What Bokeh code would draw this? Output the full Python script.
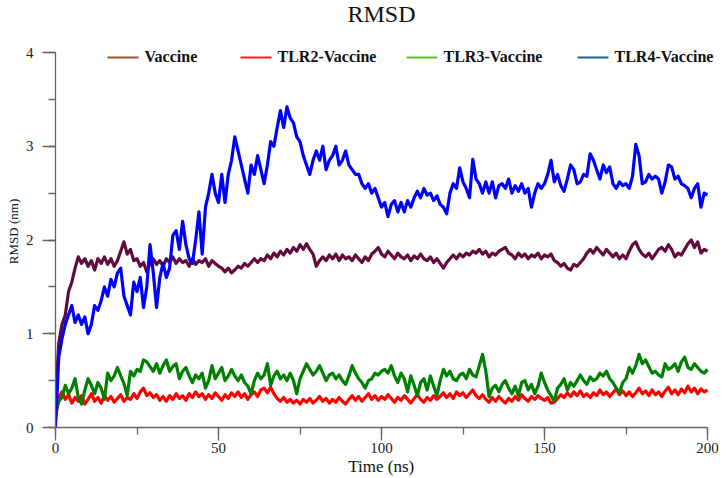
from bokeh.plotting import figure
from bokeh.models import Range1d, SingleIntervalTicker, Label, BoxAnnotation, Title
from bokeh.embed import file_html
from bokeh.resources import INLINE

TIME_NS = list(range(0, 201))

VACCINE = [
    0.3, 0.9, 1.1, 1.2, 1.45, 1.55, 1.7, 1.82, 1.75, 1.8,
    1.72, 1.78, 1.68, 1.8, 1.75, 1.82, 1.74, 1.8, 1.72, 1.78,
    1.88, 1.98, 1.85, 1.9, 1.78, 1.8, 1.72, 1.76, 1.66, 1.75,
    1.8, 1.74, 1.78, 1.72, 1.8, 1.76, 1.82, 1.75, 1.8, 1.76,
    1.78, 1.72, 1.8, 1.74, 1.78, 1.76, 1.8, 1.72, 1.78, 1.75,
    1.72, 1.7, 1.66, 1.7, 1.65, 1.68, 1.72, 1.7, 1.75, 1.72,
    1.76, 1.8, 1.76, 1.8, 1.78, 1.84, 1.8, 1.86, 1.82, 1.88,
    1.84, 1.9, 1.86, 1.92, 1.88, 1.95, 1.9, 1.96, 1.9, 1.85,
    1.72, 1.78, 1.82, 1.78, 1.84, 1.8, 1.85, 1.78, 1.84, 1.8,
    1.82, 1.78, 1.84, 1.8, 1.76, 1.82, 1.78, 1.85, 1.88, 1.92,
    1.85, 1.82, 1.88, 1.84, 1.8, 1.86, 1.82, 1.8, 1.84, 1.78,
    1.83, 1.8, 1.85, 1.8, 1.78, 1.82, 1.76, 1.8, 1.75, 1.7,
    1.76, 1.8, 1.84, 1.8, 1.85, 1.82, 1.86, 1.84, 1.88, 1.86,
    1.9, 1.85, 1.88, 1.82, 1.86, 1.84, 1.88, 1.9, 1.92, 1.86,
    1.84, 1.8, 1.86, 1.82, 1.85, 1.8, 1.84, 1.82, 1.86, 1.8,
    1.84, 1.82, 1.85, 1.78, 1.76, 1.72, 1.75, 1.7, 1.68, 1.74,
    1.72, 1.76, 1.8, 1.86, 1.9, 1.86, 1.92, 1.88, 1.84, 1.9,
    1.86, 1.82, 1.86, 1.8, 1.84, 1.8, 1.88, 1.95, 1.98, 1.9,
    1.85, 1.82, 1.86, 1.8, 1.85, 1.9, 1.92, 1.88, 1.95, 1.9,
    1.82, 1.86, 1.84, 1.9, 1.96, 2.0, 1.92, 1.98, 1.86, 1.9,
    1.88,
]

TLR2_VACCINE = [
    0.1, 0.32, 0.38, 0.3, 0.35, 0.26, 0.32, 0.28, 0.34, 0.25,
    0.3, 0.36, 0.28, 0.32, 0.26, 0.34, 0.29, 0.33, 0.27, 0.31,
    0.35, 0.28, 0.32, 0.3, 0.36, 0.31, 0.38, 0.42, 0.34, 0.37,
    0.32, 0.35, 0.29, 0.33, 0.28, 0.34, 0.3, 0.36, 0.31, 0.34,
    0.29, 0.36, 0.32, 0.38, 0.33, 0.36, 0.3, 0.35, 0.31, 0.37,
    0.33, 0.29, 0.35, 0.31, 0.37, 0.33, 0.38, 0.32, 0.36, 0.3,
    0.35, 0.38, 0.33, 0.4, 0.42, 0.37, 0.43, 0.36, 0.31, 0.28,
    0.32, 0.27, 0.3, 0.26, 0.29, 0.25, 0.3, 0.27, 0.31, 0.26,
    0.29, 0.33, 0.28, 0.31, 0.26, 0.3, 0.27, 0.32, 0.28, 0.25,
    0.3, 0.34, 0.29, 0.33, 0.28, 0.32, 0.36, 0.3, 0.34, 0.29,
    0.33, 0.3, 0.35, 0.31, 0.27, 0.32, 0.29, 0.34, 0.3, 0.26,
    0.31, 0.35, 0.3, 0.27, 0.32, 0.29, 0.34, 0.3, 0.33, 0.37,
    0.32, 0.36, 0.31, 0.38, 0.34, 0.37, 0.32, 0.36, 0.4, 0.34,
    0.31, 0.35, 0.3, 0.27, 0.32, 0.28, 0.33, 0.29, 0.26, 0.31,
    0.28, 0.33, 0.29, 0.35, 0.31, 0.28, 0.33, 0.3, 0.34, 0.31,
    0.29, 0.32, 0.26, 0.27, 0.31, 0.35, 0.32, 0.37, 0.33, 0.38,
    0.34, 0.39, 0.33, 0.36, 0.32, 0.37, 0.34, 0.4, 0.35, 0.38,
    0.33, 0.37, 0.41, 0.35, 0.39, 0.34, 0.38, 0.33, 0.37, 0.42,
    0.36, 0.39, 0.34, 0.4, 0.35, 0.38, 0.33, 0.39, 0.43, 0.36,
    0.4, 0.35, 0.41, 0.37, 0.44, 0.38, 0.42, 0.36, 0.41, 0.38,
    0.4,
]

TLR3_VACCINE = [
    0.15, 0.28, 0.32, 0.45, 0.36, 0.42, 0.52, 0.32, 0.25, 0.4,
    0.52, 0.45, 0.36, 0.48, 0.42, 0.3, 0.58, 0.5, 0.55, 0.64,
    0.55, 0.47, 0.34, 0.6, 0.55, 0.62, 0.6, 0.72, 0.7, 0.65,
    0.6, 0.68, 0.58, 0.66, 0.72, 0.6, 0.65, 0.68, 0.52, 0.6,
    0.64, 0.55, 0.48, 0.56, 0.52, 0.58, 0.42, 0.5, 0.66, 0.52,
    0.58, 0.64, 0.5, 0.55, 0.62, 0.55, 0.5, 0.56, 0.48, 0.44,
    0.36, 0.5, 0.58, 0.52, 0.56, 0.68, 0.45, 0.55, 0.6, 0.52,
    0.56, 0.5, 0.58, 0.5, 0.36, 0.52, 0.6, 0.68, 0.62, 0.56,
    0.6, 0.66, 0.58, 0.5, 0.56, 0.58, 0.52, 0.56, 0.5, 0.46,
    0.55, 0.66, 0.58, 0.52, 0.48, 0.42, 0.5, 0.52, 0.58, 0.56,
    0.6, 0.62, 0.58, 0.66, 0.55, 0.48, 0.58, 0.52, 0.38, 0.55,
    0.45, 0.34, 0.48, 0.52, 0.4, 0.55, 0.44, 0.34, 0.5, 0.62,
    0.55, 0.6, 0.52, 0.5, 0.56, 0.58, 0.52, 0.62, 0.56, 0.54,
    0.66, 0.78, 0.6, 0.33, 0.42, 0.45, 0.38, 0.46, 0.5, 0.42,
    0.36, 0.44, 0.34, 0.48, 0.5, 0.4, 0.46, 0.36, 0.44, 0.58,
    0.48, 0.4, 0.34, 0.28, 0.42, 0.46, 0.52, 0.4, 0.48, 0.44,
    0.5, 0.56, 0.5, 0.46, 0.54, 0.5, 0.52, 0.58, 0.55, 0.6,
    0.52, 0.48, 0.42, 0.37, 0.48, 0.52, 0.64, 0.58, 0.66, 0.78,
    0.68, 0.72, 0.65, 0.58, 0.6, 0.56, 0.54, 0.68, 0.62, 0.64,
    0.68, 0.6, 0.7, 0.75, 0.64, 0.62, 0.68, 0.64, 0.6, 0.58,
    0.62,
]

TLR4_VACCINE = [
    0.0, 0.75, 0.95, 1.1, 1.2, 1.3, 1.12, 1.2, 1.1, 1.18,
    1.0, 1.1, 1.3, 1.25, 1.35, 1.5, 1.4, 1.58, 1.5, 1.65,
    1.7, 1.4, 1.3, 1.2, 1.55, 1.45, 1.6, 1.28, 1.5, 1.95,
    1.65, 1.28, 1.6, 1.75, 1.6, 1.7, 2.05, 2.1, 1.9, 2.2,
    1.95, 1.8, 1.75, 2.0, 2.3, 1.85, 2.35, 2.5, 2.7, 2.5,
    2.4, 2.7, 2.4, 2.7, 2.85, 3.1, 2.95, 2.8, 2.65, 2.5,
    2.8, 2.7, 2.9, 2.75, 2.6, 2.8, 3.05, 3.0, 3.2, 3.38,
    3.2, 3.42, 3.3, 3.25, 3.1, 3.05, 2.9, 2.8, 2.7, 2.85,
    2.95, 2.85, 3.0, 2.75, 2.85, 2.9, 3.0, 2.8, 2.85, 2.95,
    2.8, 2.75, 2.7, 2.7, 2.6, 2.55, 2.6, 2.5, 2.55, 2.45,
    2.35, 2.4, 2.25, 2.38, 2.42, 2.3, 2.4, 2.3, 2.42, 2.35,
    2.45, 2.52, 2.45, 2.55, 2.48, 2.5, 2.42, 2.47, 2.38, 2.35,
    2.28, 2.5, 2.6, 2.55, 2.77, 2.62, 2.55, 2.45, 2.86, 2.65,
    2.6, 2.5, 2.62, 2.5, 2.62, 2.45, 2.58, 2.6, 2.55, 2.65,
    2.5, 2.58, 2.52, 2.6, 2.5, 2.55, 2.35, 2.5, 2.6, 2.55,
    2.6, 2.7, 2.85, 2.62, 2.7, 2.58, 2.52, 2.65, 2.8, 2.75,
    2.6, 2.62, 2.7, 2.68, 2.92, 2.85, 2.75, 2.65, 2.8, 2.72,
    2.78, 2.6, 2.55, 2.62, 2.58, 2.6, 2.55, 2.68, 3.02, 2.9,
    2.6, 2.62, 2.7, 2.65, 2.68, 2.65, 2.5, 2.62, 2.8, 2.78,
    2.65, 2.68, 2.6, 2.58, 2.55, 2.45, 2.55, 2.6, 2.35, 2.5,
    2.48,
]

SERIES_NAMES = ["Vaccine", "TLR2-Vaccine", "TLR3-Vaccine", "TLR4-Vaccine"]
LINE_COLORS = ["#620a3c", "#ff0000", "#008000", "#0000ff"]
LEGEND_COLORS = ["#a0522d", "#ff1a1a", "#5cbf2a", "#1f5f8a"]

TITLE = "RMSD"
X_LABEL = "Time (ns)"
Y_LABEL = "RMSD (nm)"
X_TICK_STEP = 50
Y_TICK_STEP = 1
X_LIMITS = (0, 200)
Y_LIMITS = (0, 4)

SERIF = "Liberation Serif"

# layout (canvas pixels)
W, H = 726, 478
FRAME_L, FRAME_R_AXIS, FRAME_T_AXIS, FRAME_B = 55, 707, 52, 427

px_per_x = (FRAME_R_AXIS - FRAME_L) / (X_LIMITS[1] - X_LIMITS[0])
px_per_y = (FRAME_B - FRAME_T_AXIS) / (Y_LIMITS[1] - Y_LIMITS[0])
x_end = X_LIMITS[1] + (W - FRAME_R_AXIS) / px_per_x
y_end = Y_LIMITS[1] + FRAME_T_AXIS / px_per_y

p = figure(width=W, height=H, output_backend="svg", toolbar_location=None,
           x_range=Range1d(X_LIMITS[0], x_end), y_range=Range1d(Y_LIMITS[0], y_end),
           min_border_left=FRAME_L, min_border_right=0, min_border_top=0,
           min_border_bottom=H - FRAME_B)

p.grid.visible = False
p.outline_line_color = None
p.background_fill_color = "white"
p.border_fill_color = "white"

# axes
p.xaxis.ticker = SingleIntervalTicker(interval=X_TICK_STEP, num_minor_ticks=2)
p.yaxis.ticker = SingleIntervalTicker(interval=Y_TICK_STEP, num_minor_ticks=2)
p.xaxis.bounds = X_LIMITS
p.yaxis.bounds = Y_LIMITS
for ax in (p.xaxis[0], p.yaxis[0]):
    ax.axis_line_color = "#666666"
    ax.axis_line_width = 1.3
    ax.major_tick_line_color = "#666666"
    ax.minor_tick_line_color = "#666666"
    ax.major_tick_line_width = 1.3
    ax.minor_tick_line_width = 1.3
    ax.major_tick_in = 0
    ax.major_tick_out = 13
    ax.minor_tick_in = 0
    ax.minor_tick_out = 7
    ax.major_label_text_font = SERIF
    ax.major_label_text_font_size = "15px"
    ax.major_label_text_color = "#222222"
p.xaxis.major_label_standoff = 2
p.yaxis.major_label_standoff = 9

# axis titles as side-panel titles, offset so they centre on the axis extents
x_label_w = 66.6   # approx. width of "Time (ns)" at 17px
y_label_w = 65.3   # approx. length of "RMSD (nm)" at 13px
p.add_layout(Title(text=X_LABEL, align="left", vertical_align="middle",
                   offset=(FRAME_L + FRAME_R_AXIS) / 2 - x_label_w / 2 - FRAME_L,
                   standoff=0, text_font=SERIF, text_font_style="normal",
                   text_font_size="17px", text_color="#111111"), "below")
p.add_layout(Title(text=Y_LABEL, align="left", vertical_align="middle",
                   offset=FRAME_B - (231 + y_label_w / 2),
                   standoff=2, text_font=SERIF, text_font_style="normal",
                   text_font_size="13px", text_color="#111111"), "left")

# data lines
values = [VACCINE, TLR2_VACCINE, TLR3_VACCINE, TLR4_VACCINE]
for vals, col in zip(values, LINE_COLORS):
    p.line(TIME_NS, vals, line_color=col, line_width=3.2, line_join="round")

def screen_label(cx, cy, text, **kw):
    """Label positioned by canvas pixel (top-left origin)."""
    p.add_layout(Label(x=cx - FRAME_L, y=FRAME_B - cy, x_units="screen", y_units="screen",
                       text=text, text_font=SERIF, text_color="#111111", **kw))

screen_label(381, 13, TITLE, text_align="center", text_baseline="middle", text_font_size="24px")

# legend drawn manually (legend colours differ from the data lines)
glyph_left = [107, 240, 406, 577]
glyph_w = 31
legend_y = 57
for name, col, gx in zip(SERIES_NAMES, LEGEND_COLORS, glyph_left):
    p.add_layout(BoxAnnotation(left=gx - FRAME_L, right=gx - FRAME_L + glyph_w,
                               bottom=FRAME_B - legend_y - 1, top=FRAME_B - legend_y + 1,
                               left_units="screen", right_units="screen",
                               bottom_units="screen", top_units="screen",
                               fill_color=col, fill_alpha=1, line_alpha=0))
    screen_label(gx + glyph_w + 6, legend_y - 1, name, text_align="left", text_baseline="middle",
                 text_font_style="bold", text_font_size="16px")

open("out.html", "w").write(file_html(p, INLINE))
